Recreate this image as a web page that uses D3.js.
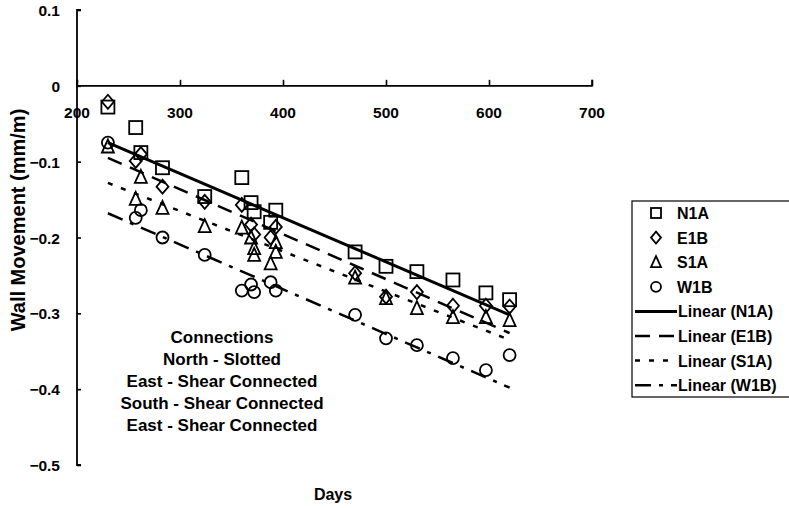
<!DOCTYPE html>
<html><head><meta charset="utf-8">
<script src="https://cdn.jsdelivr.net/npm/d3@7"></script>
<style>body{margin:0;background:#fff}svg{display:block}text{font-family:"Liberation Sans",Arial,sans-serif;font-weight:bold;fill:#000}</style>
</head><body>
<svg id="c" width="789" height="508"></svg>
<script>
// ---- data ----
const xTicks = [200, 300, 400, 500, 600, 700];
const yTicks = [0.1, 0, -0.1, -0.2, -0.3, -0.4, -0.5];
const seriesNames = ["N1A", "E1B", "S1A", "W1B"];
const n1aDays = [230, 257, 262, 283, 324, 360, 369, 372, 388, 393, 470, 500, 530, 565, 597, 620];
const n1aVals = [-0.028, -0.055, -0.088, -0.108, -0.146, -0.121, -0.154, -0.166, -0.180, -0.164, -0.219, -0.238, -0.245, -0.256, -0.273, -0.282];
const e1bDays = [230, 257, 262, 283, 324, 360, 369, 372, 388, 393, 470, 500, 530, 565, 597, 620];
const e1bVals = [-0.021, -0.099, -0.090, -0.133, -0.153, -0.157, -0.183, -0.196, -0.200, -0.186, -0.247, -0.278, -0.272, -0.290, -0.290, -0.291];
const s1aDays = [230, 257, 262, 283, 324, 360, 369, 372, 372, 388, 393, 393, 470, 500, 530, 565, 597, 620];
const s1aVals = [-0.080, -0.149, -0.120, -0.161, -0.185, -0.187, -0.200, -0.214, -0.223, -0.234, -0.206, -0.219, -0.253, -0.280, -0.293, -0.305, -0.305, -0.309];
const w1bDays = [230, 257, 262, 283, 324, 360, 369, 372, 388, 393, 470, 500, 530, 565, 597, 620];
const w1bVals = [-0.075, -0.174, -0.164, -0.200, -0.223, -0.270, -0.262, -0.272, -0.259, -0.270, -0.302, -0.333, -0.342, -0.359, -0.375, -0.355];
// linear trend lines: [start day, end day], [start value, end value]
const trendDays = [230, 620];
const n1aTrend = [-0.075, -0.302];
const e1bTrend = [-0.095, -0.326];
const s1aTrend = [-0.128, -0.335];
const w1bTrend = [-0.168, -0.398];
const notes = ["Connections", "North - Slotted", "East - Shear Connected", "South - Shear Connected", "East - Shear Connected"];

// ---- chart ----
const svg = d3.select("#c");
const x = d3.scaleLinear().domain([200, 700]).range([77, 592]);
const y = d3.scaleLinear().domain([-0.5, 0.1]).range([465, 10]);

const series = [
  {name: "N1A", days: n1aDays, vals: n1aVals, trend: n1aTrend, sym: "square", dash: null, w: 3},
  {name: "E1B", days: e1bDays, vals: e1bVals, trend: e1bTrend, sym: "diamond", dash: "15,9", w: 2.5},
  {name: "S1A", days: s1aDays, vals: s1aVals, trend: s1aTrend, sym: "triangle", dash: "5,9", w: 2.5},
  {name: "W1B", days: w1bDays, vals: w1bVals, trend: w1bTrend, sym: "circle", dash: "16,8,4,8", w: 2.5}
];

function marker(g, sym, cx, cy, s) {
  const h = s / 2;
  if (sym === "square") g.append("rect").attr("x", cx - h).attr("y", cy - h).attr("width", s).attr("height", s);
  else if (sym === "diamond") g.append("path").attr("d", `M${cx},${cy - h - 1}L${cx + h},${cy}L${cx},${cy + h + 1}L${cx - h},${cy}Z`);
  else if (sym === "triangle") g.append("path").attr("d", `M${cx},${cy - h - 1}L${cx + h},${cy + h}L${cx - h},${cy + h}Z`);
  else g.append("circle").attr("cx", cx).attr("cy", cy).attr("r", h);
}

// axes
const xAxis = svg.append("g").attr("transform", `translate(0,${y(0)})`)
  .call(d3.axisTop(x).tickValues(xTicks).tickSize(6).tickFormat(""));
xAxis.select(".domain").attr("d", `M${x(200)},-6V0H${x(700)}V-6`).attr("stroke-width", 1.6);
xAxis.selectAll(".tick line").attr("stroke-width", 1.6);
const yAxis = svg.append("g").attr("transform", `translate(${x(200)},0)`)
  .call(d3.axisRight(y).tickValues(yTicks).tickSize(4).tickFormat(""));
yAxis.select(".domain").attr("d", `M4,${y(0.1)}H0V${y(-0.5)}H4`).attr("stroke-width", 1.8);
yAxis.selectAll(".tick line").attr("stroke-width", 1.6);

svg.append("g").selectAll("text").data(xTicks).join("text")
  .attr("x", d => x(d)).attr("y", y(0) + 32).attr("text-anchor", "middle")
  .style("font-size", "15.5px").text(d => d);
svg.append("g").selectAll("text").data(yTicks).join("text")
  .attr("x", 60).attr("y", d => y(d) + 6).attr("text-anchor", "end")
  .style("font-size", "15.5px").text(d => d === 0 ? "0" : d3.format(".1f")(d));

// trend lines
const line = d3.line().x(d => x(d[0])).y(d => y(d[1]));
series.forEach(s => {
  svg.append("path").datum(trendDays.map((d, i) => [d, s.trend[i]]))
    .attr("d", line).attr("fill", "none").attr("stroke", "#000")
    .attr("stroke-width", s.w).attr("stroke-dasharray", s.dash);
});

// markers
series.forEach(s => {
  const g = svg.append("g").attr("fill", "#fff").attr("fill-opacity", 0).attr("stroke", "#000").attr("stroke-width", 1.8);
  s.days.forEach((d, i) => marker(g, s.sym, x(d), y(s.vals[i]), s.sym === "square" ? 13 : 12));
});

// axis titles
svg.append("text").attr("x", 333).attr("y", 500).attr("text-anchor", "middle").style("font-size", "16px").text("Days");
svg.append("text").attr("transform", "translate(25,220) rotate(-90)").attr("text-anchor", "middle")
  .style("font-size", "20px").text("Wall Movement (mm/m)");

// annotation
svg.append("g").selectAll("text").data(notes).join("text")
  .attr("x", 222).attr("y", (d, i) => 343 + i * 22).attr("text-anchor", "middle")
  .style("font-size", "17px").text(d => d);

// legend
const lg = svg.append("g");
lg.append("rect").attr("x", 632).attr("y", 201).attr("width", 200).attr("height", 196)
  .attr("fill", "none").attr("stroke", "#000").attr("stroke-width", 1.2);
series.forEach((s, i) => {
  const cy = 213 + i * 24.6;
  const g = lg.append("g").attr("fill", "none").attr("stroke", "#000").attr("stroke-width", 1.8);
  marker(g, s.sym, 656, cy, 10);
  lg.append("text").attr("x", 677).attr("y", cy + 6).style("font-size", "16px").text(s.name);
});
series.forEach((s, i) => {
  const cy = 213 + (i + 4) * 24.6;
  lg.append("line").attr("x1", 635).attr("x2", 677).attr("y1", cy).attr("y2", cy)
    .attr("stroke", "#000").attr("stroke-width", s.w).attr("stroke-dasharray", s.dash);
  lg.append("text").attr("x", 678).attr("y", cy + 6).style("font-size", "16px").text(`Linear (${s.name})`);
});
</script>
</body></html>
